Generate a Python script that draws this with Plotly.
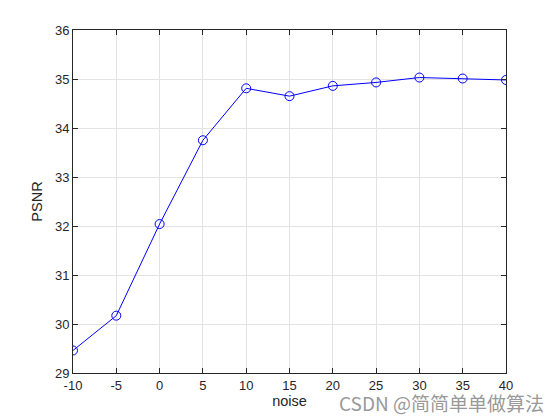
import plotly.graph_objects as go

noise = [-10, -5, 0, 5, 10, 15, 20, 25, 30, 35, 40]
psnr = [29.46, 30.17, 32.04, 33.75, 34.81, 34.65, 34.86, 34.93, 35.03, 35.01, 34.98]
x_ticks = [-10, -5, 0, 5, 10, 15, 20, 25, 30, 35, 40]
y_ticks = [29, 30, 31, 32, 33, 34, 35, 36]

FONT = "Liberation Sans, Arial"

fig = go.Figure()
fig.add_trace(go.Scatter(
    x=noise, y=psnr, mode="lines+markers",
    line=dict(color="#0000ff", width=1),
    marker=dict(symbol="circle-open", size=9, color="#0000ff", line=dict(width=1)),
    showlegend=False,
))

axis_common = dict(
    showgrid=True, gridcolor="#e3e3e3", gridwidth=1,
    showline=True, linecolor="#262626", linewidth=1, mirror="ticks",
    ticks="inside", ticklen=5, tickcolor="#262626",
    tickfont=dict(family=FONT, size=13, color="#262626"),
    zeroline=False,
)
fig.update_xaxes(range=[-10, 40], tickvals=x_ticks, ticktext=[str(v) for v in x_ticks],
                 title=dict(text="noise", font=dict(family=FONT, size=14.5, color="#262626"), standoff=2),
                 **axis_common)
fig.update_yaxes(range=[29, 36], tickvals=y_ticks,
                 title=dict(text="PSNR", font=dict(family=FONT, size=14.5, color="#262626"), standoff=8),
                 **axis_common)

fig.add_annotation(text="CSDN @简简单单做算法", xref="paper", yref="paper",
                   x=1.092, y=-0.085, xanchor="right", yanchor="middle", showarrow=False,
                   font=dict(family="Noto Sans CJK SC", size=19, color="#999999"))

# page body has an 8px default margin, so the figure is sized to fit the window
fig.update_layout(
    width=552, height=412,
    margin=dict(l=65, r=54, t=22, b=47),
    paper_bgcolor="white", plot_bgcolor="white",
)
fig.write_html("out.html")
